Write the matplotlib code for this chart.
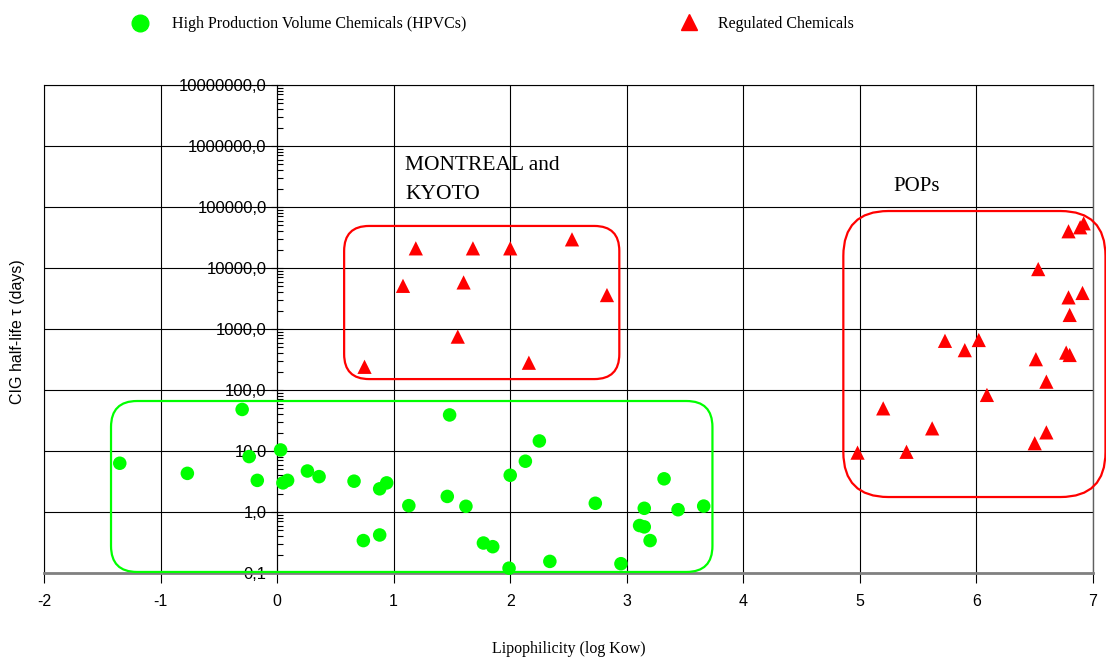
import matplotlib
matplotlib.use('Agg')
import matplotlib.pyplot as plt
from matplotlib.patches import FancyBboxPatch
from matplotlib.lines import Line2D
from matplotlib.ticker import LogLocator, FixedLocator, FuncFormatter
from matplotlib.transforms import IdentityTransform

plt.rcParams['axes.unicode_minus'] = False

# HPVCs (green circles): log Kow, half-life (days)
hpvc_logkow = [-1.35, -0.77, -0.30, -0.24, -0.17, 0.03, 0.05, 0.09, 0.26, 0.36,
               0.66, 0.74, 0.88, 0.88, 0.94, 1.13, 1.48, 1.46, 1.62, 1.77,
               1.85, 2.00, 1.99, 2.13, 2.25, 2.34, 2.73, 2.95, 3.11, 3.15,
               3.15, 3.20, 3.32, 3.44, 3.66]
hpvc_halflife = [6.3, 4.3, 48, 8.1, 3.3, 10.4, 3.0, 3.3, 4.7, 3.8,
                 3.2, 0.34, 2.4, 0.42, 3.0, 1.27, 39, 1.8, 1.24, 0.31,
                 0.27, 4.0, 0.12, 6.8, 14.6, 0.155, 1.39, 0.142, 0.60, 0.57,
                 1.15, 0.34, 3.5, 1.09, 1.25]

# Regulated chemicals - Montreal / Kyoto group
mk_logkow = [1.19, 1.68, 2.00, 2.53, 1.08, 1.60, 2.83, 1.55, 0.75, 2.16]
mk_halflife = [21000, 21000, 21000, 29500, 5100, 5800, 3600, 750, 240, 280]

# Regulated chemicals - POPs group
pop_logkow = [4.98, 5.20, 5.40, 5.62, 5.73, 5.90, 6.02, 6.09, 6.50, 6.60,
              6.51, 6.60, 6.77, 6.80, 6.53, 6.79, 6.91, 6.80, 6.79, 6.89, 6.92]
pop_halflife = [9.4, 50, 9.7, 23.5, 640, 450, 660, 83, 13.4, 20.2,
                320, 137, 410, 375, 9600, 3300, 3900, 1700, 40000, 46500, 54000]

# grouping boxes: (x0, x1, y0, y1, corner radius px, colour)
boxes = [(-1.425, 3.735, 0.104, 66, 26, '#00ff00'),
         (0.575, 2.936, 151, 48900, 25, '#ff0000'),
         (4.858, 7.107, 1.76, 85900, 45, '#ff0000')]

sans = 'Liberation Sans'
serif = 'Liberation Serif'

fig = plt.figure(figsize=(11.06, 6.62), dpi=100)
ax = fig.add_axes([44 / 1106, 89 / 662, 1049 / 1106, 488 / 662])

ax.set_yscale('log')
ax.set_xlim(-2, 7)
ax.set_ylim(0.1, 1e7)

ax.grid(True, which='major', color='black', linewidth=0.8, zorder=0)
ax.set_axisbelow(True)

ax.scatter(hpvc_logkow, hpvc_halflife, s=95, marker='o', color='#00ff00',
           edgecolors='none', zorder=3, clip_on=False)
ax.scatter(mk_logkow + pop_logkow, mk_halflife + pop_halflife, s=105, marker='^',
           color='#ff0000', edgecolors='none', zorder=3, clip_on=False)

# spines
ax.spines['left'].set_position(('data', 0))
ax.spines['left'].set_color('black')
ax.spines['left'].set_linewidth(0.8)
ax.spines['bottom'].set_color('#808080')
ax.spines['bottom'].set_linewidth(2)
ax.spines['top'].set_linewidth(0.8)
ax.spines['right'].set_color('#606060')
ax.spines['right'].set_linewidth(1)
ax.axvline(-2, color='black', linewidth=0.8, clip_on=False, zorder=1)

ax.xaxis.set_major_locator(FixedLocator(range(-2, 8)))
ax.tick_params(axis='x', direction='out', length=7, width=0.8, pad=8,
               labelsize=11.5, color='black')
ax.yaxis.set_major_locator(LogLocator(base=10, numticks=20))
ax.yaxis.set_minor_locator(LogLocator(base=10, subs=range(2, 10), numticks=20))
ax.yaxis.set_major_formatter(FuncFormatter(lambda v, p: f"{v:.1f}".replace('.', ',')))
ax.yaxis.set_minor_formatter(FuncFormatter(lambda v, p: ''))
ax.tick_params(axis='y', which='major', direction='inout', length=9, width=0.8,
               labelsize=12, pad=3)
ax.tick_params(axis='y', which='minor', direction='in', length=4, width=0.8)
for lab in ax.get_xticklabels() + ax.get_yticklabels():
    lab.set_family(sans)

ax.set_xlabel('Lipophilicity (log Kow)', family=serif, fontsize=11.5, labelpad=23)
fig.text(18 / 1106, 1 - 332 / 662, 'CIG half-life τ (days)', family=sans,
         fontsize=11.5, rotation=90, ha='center', va='center')

# rounded boxes drawn in pixel space
fig.canvas.draw()
for x0, x1, y0, y1, r, c in boxes:
    (px0, py0), (px1, py1) = ax.transData.transform([(x0, y0), (x1, y1)])
    patch = FancyBboxPatch((px0, py0), px1 - px0, py1 - py0,
                           boxstyle=f'round,pad=0,rounding_size={r}',
                           transform=IdentityTransform(), facecolor='none',
                           edgecolor=c, linewidth=1.6, zorder=2)
    fig.add_artist(patch)

ax.text(1.10, 10 ** 5.83, 'MONTREAL and\nKYOTO', family=serif, fontsize=15.5,
        ha='left', va='top', linespacing=1.7)
ax.text(5.29, 10 ** 5.49, 'POPs', family=serif, fontsize=15,
        ha='left', va='top')

# legend across the top
fig.add_artist(Line2D([140 / 1106], [1 - 23 / 662], marker='o', markersize=12,
                      color='#00ff00', linestyle='none', transform=fig.transFigure))
fig.text(172 / 1106, 1 - 24 / 662, 'High Production Volume Chemicals (HPVCs)',
         family=serif, fontsize=11.5, va='center')
fig.add_artist(Line2D([689 / 1106], [1 - 22 / 662], marker='^', markersize=12,
                      color='#ff0000', linestyle='none', transform=fig.transFigure))
fig.text(718 / 1106, 1 - 24 / 662, 'Regulated Chemicals',
         family=serif, fontsize=11.5, va='center')

fig.savefig('out.png', dpi=100)
